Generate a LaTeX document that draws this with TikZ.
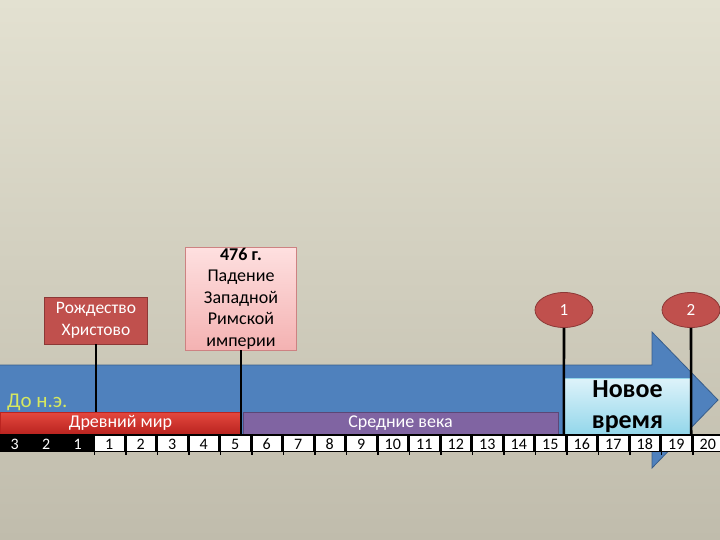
\documentclass[tikz,border=0pt]{standalone}
\usepackage{fontspec}
\setmainfont{Carlito}[Numbers=Lining]
\usetikzlibrary{shapes.geometric,positioning}

\definecolor{fon1}{RGB}{227,225,209}
\definecolor{fon2}{RGB}{192,188,172}
\definecolor{sinij}{RGB}{79,129,189}
\definecolor{sinijkraj}{RGB}{56,93,138}
\definecolor{krasn}{RGB}{192,80,77}
\definecolor{krasnkraj}{RGB}{140,56,54}
\definecolor{alyj1}{RGB}{228,72,62}
\definecolor{alyj2}{RGB}{186,36,32}
\definecolor{fiol}{RGB}{128,100,162}
\definecolor{fiolkraj}{RGB}{92,71,118}
\definecolor{roz1}{RGB}{254,224,224}
\definecolor{roz2}{RGB}{244,178,178}
\definecolor{rozkraj}{RGB}{205,130,130}
\definecolor{gol1}{RGB}{222,243,250}
\definecolor{gol2}{RGB}{146,214,234}
\definecolor{salat}{RGB}{214,232,96}

\begin{document}
\begin{tikzpicture}[x=1pt,y=-1pt]

        % Стили:
        \tikzstyle{epoha}=[minimum height=22pt, inner sep=0pt, text=white,
        font=\fontsize{18}{18}\selectfont]
        \tikzstyle{sobytie}=[draw, inner sep=0pt, align=center,
        font=\fontsize{18}{21.5}\selectfont]
        \tikzstyle{oval}=[ellipse, draw=krasnkraj, thick, fill=krasn,
        minimum width=58pt, minimum height=35pt, inner sep=0pt, text=white,
        font=\fontsize{17}{18}\selectfont]
        \tikzstyle{line}=[draw, line width=2.6pt, black]
        \tikzstyle{god}=[minimum width=28.5pt, minimum height=15pt, inner sep=0pt,
        text height=11pt, text depth=0pt, font=\fontsize{16}{16}\selectfont]

        % Фон:
        \useasboundingbox (0,0) rectangle (720,540);
        \clip (0,0) rectangle (720,540);
        \shade[top color=fon1, bottom color=fon2] (0,0) rectangle (720,540);

        % Стрелка времени:
        \path[draw=sinijkraj, fill=sinij, thick] (-2,365) -- (652,365) -- (652,332)
            -- (718,400) -- (652,468) -- (652,435) -- (-2,435) -- cycle;

        % Эпохи:
        \node[epoha, draw=alyj2, top color=alyj1, bottom color=alyj2,
            minimum width=241pt] (drevn) at (120.5,423) {Древний мир};
        \node[epoha, draw=fiolkraj, fill=fiol, minimum width=315pt]
            (sredn) at (400.5,423) {Средние века};
        \node[draw=gol2, top color=gol1, bottom color=gol2, minimum width=127pt,
            minimum height=57pt, inner sep=0pt, align=center,
            font=\fontsize{26}{31}\selectfont\bfseries] (novoe) at (627.5,406.5)
            {Новое\\время};
        \node[anchor=base west, text=salat, inner sep=0pt,
            font=\fontsize{21}{21}\selectfont] (donz) at (7,407) {До н.э.};

        % Шкала веков:
        \fill[black] (0,434) rectangle (720,452);
        \foreach \t [count=\i from 0] in {3,2,1,1,2,3,4,5,6,7,8,9,10,11,12,13,14,
            15,16,17,18,19,20} {
            \pgfmathsetmacro{\cx}{14.75+31.5*\i}
            \ifnum\i<3
                \node[god, text=white] (g\i) at (\cx,443.5) {\t};
            \else
                \node[god, fill=white] (g\i) at (\cx,443.5) {\t};
                \fill[black] (\cx-15.75,451) rectangle (\cx-14.25,454.5);
            \fi
        }

        % События:
        \node[sobytie, draw=krasnkraj, fill=krasn, text=white,
            minimum width=103pt, minimum height=47pt,
            font=\fontsize{17.5}{22}\selectfont] (rozhd) at (96,320.5)
            {Рождество\\Христово};
        \node[sobytie, draw=rozkraj, top color=roz1, bottom color=roz2,
            minimum width=111pt, minimum height=103pt] (padenie) at (241,298.5)
            {\bfseries 476 г.\\Падение\\Западной\\Римской\\империи};
        \node[oval] (o1) at (564,310) {1};
        \node[oval] (o2) at (691,310) {2};

        % Линии:
        \path[line] (rozhd.south) -- (rozhd.south |- drevn.north);
        \path[line] (padenie.south) -- (padenie.south |- novoe.south);
        \path[line] (o1.south) -- (novoe.south west);
        \path[line] (o2.south) -- (novoe.south east);

\end{tikzpicture}
\end{document}
